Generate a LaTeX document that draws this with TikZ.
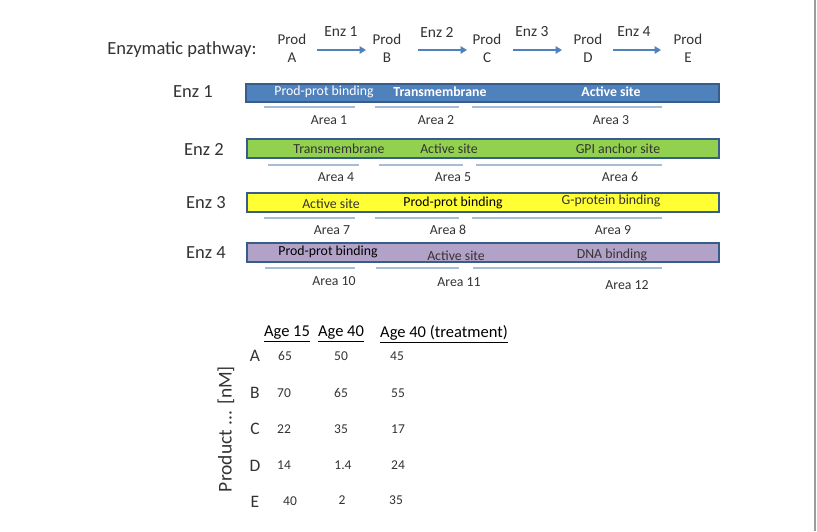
\documentclass[tikz,border=0pt]{standalone}
\usepackage{fontspec}
\setmainfont{Carlito}
\usetikzlibrary{arrows.meta}
\definecolor{barblue}{HTML}{4F81BD}
\definecolor{barblueedge}{HTML}{385D8A}
\definecolor{bargreen}{HTML}{92D050}
\definecolor{baryellow}{HTML}{FFFF33}
\definecolor{barpurple}{HTML}{B3A2C7}
\definecolor{arealine}{HTML}{A7BCD6}
\definecolor{txtgray}{HTML}{333333}
\definecolor{frameline}{HTML}{9A9CA0}
\tikzset{
  lbl/.style={inner sep=0pt, font=\fontsize{18.5}{20}\selectfont, text=txtgray},
  prodlbl/.style={inner sep=0pt, font=\fontsize{15}{17}\selectfont, text=txtgray, align=center},
  enzlbl/.style={inner sep=0pt, font=\fontsize{15.5}{17}\selectfont, text=txtgray},
  patharrow/.style={draw=barblue, line width=2pt, -{Triangle[length=6.5pt,width=7.5pt]}},
  barbox/.style={draw=barblueedge, line width=1.6pt, inner sep=0pt},
  bartxt/.style={inner sep=0pt, font=\fontsize{13.8}{15}\selectfont},
  boldtxt/.style={inner sep=0pt, font=\bfseries\fontsize{13.8}{15}\selectfont},
  areatxt/.style={inner sep=0pt, font=\fontsize{13.8}{15}\selectfont, text=txtgray},
  aline/.style={draw=arealine, line width=1.6pt},
  hdr/.style={inner sep=0pt, font=\fontsize{16.5}{18}\selectfont, text=black},
  rowlbl/.style={inner sep=0pt, font=\fontsize{17.5}{19}\selectfont, text=txtgray},
  ylbl/.style={inner sep=0pt, font=\fontsize{19.5}{21}\selectfont, text=txtgray},
  val/.style={inner sep=0pt, font=\fontsize{13.5}{15}\selectfont, text=txtgray},
}
\begin{document}
\begin{tikzpicture}[x=1pt,y=-1pt]
\useasboundingbox (0,0) rectangle (817,531);
\fill[white] (0,0) rectangle (817,531);
\draw[frameline, line width=2pt] (815,0) -- (815,531);

% pathway
\node[lbl] (pw) at (182,50) {Enzymatic pathway:};
\node[prodlbl] (pA) at (292,48) {Prod\\[1pt]A};
\node[prodlbl] (pB) at (387,48) {Prod\\[1pt]B};
\node[prodlbl] (pC) at (487,48) {Prod\\[1pt]C};
\node[prodlbl] (pD) at (588,48) {Prod\\[1pt]D};
\node[prodlbl] (pE) at (688,48) {Prod\\[1pt]E};
\node[enzlbl] (e1) at (341,32) {Enz 1};
\node[enzlbl] (e2) at (437,32) {Enz 2};
\node[enzlbl] (e3) at (532,32) {Enz 3};
\node[enzlbl] (e4) at (634,32) {Enz 4};
\coordinate (a1s) at (317,50); \coordinate (a1e) at (366,50);
\coordinate (a2s) at (418,50); \coordinate (a2e) at (467,50);
\coordinate (a3s) at (513,50); \coordinate (a3e) at (562,50);
\coordinate (a4s) at (613,50); \coordinate (a4e) at (661,50);
\draw[patharrow] (a1s) -- (a1e);
\draw[patharrow] (a2s) -- (a2e);
\draw[patharrow] (a3s) -- (a3e);
\draw[patharrow] (a4s) -- (a4e);

% Enz 1
\node[lbl] (r1) at (193,92) {Enz 1};
\draw[barbox, fill=barblue] (246,84) rectangle (719,102);
\node[bartxt, text=white] (t11) at (324,92) {Prod-prot binding};
\node[boldtxt, text=white] (t12) at (440,92) {Transmembrane};
\node[boldtxt, text=white] (t13) at (611,92) {Active site};
\draw[aline] (264,107) -- (355,107);
\draw[aline] (375,107) -- (459,107);
\draw[aline] (472,107) -- (662,107);
\node[areatxt] (ar1) at (329,120) {Area 1};
\node[areatxt] (ar2) at (436,120) {Area 2};
\node[areatxt] (ar3) at (611,120) {Area 3};

% Enz 2
\node[lbl] (r2) at (204,149) {Enz 2};
\draw[barbox, fill=bargreen] (247,139) rectangle (719,158);
\node[bartxt, text=txtgray] (t21) at (339,149) {Transmembrane};
\node[bartxt, text=txtgray] (t22) at (449,149) {Active site};
\node[bartxt, text=txtgray] (t23) at (618,149) {GPI anchor site};
\draw[aline] (268,165) -- (359,165);
\draw[aline] (379,165) -- (463,165);
\draw[aline] (476,165) -- (662,165);
\node[areatxt] (ar4) at (336,177) {Area 4};
\node[areatxt] (ar5) at (453,177) {Area 5};
\node[areatxt] (ar6) at (620,177) {Area 6};

% Enz 3
\node[lbl] (r3) at (206,203) {Enz 3};
\draw[barbox, fill=baryellow] (247,193) rectangle (719,212);
\node[bartxt, text=txtgray] (t31) at (331,204) {Active site};
\node[bartxt, text=black] (t32) at (453,203) {Prod-prot binding};
\node[bartxt, text=txtgray] (t33) at (611,201) {G-protein binding};
\draw[aline] (264,218) -- (355,218);
\draw[aline] (375,218) -- (459,218);
\draw[aline] (472,218) -- (662,218);
\node[areatxt] (ar7) at (332,230) {Area 7};
\node[areatxt] (ar8) at (448,230) {Area 8};
\node[areatxt] (ar9) at (613,230) {Area 9};

% Enz 4
\node[lbl] (r4) at (206,253) {Enz 4};
\draw[barbox, fill=barpurple] (247,243) rectangle (719,262);
\node[bartxt, text=black] (t41) at (328,252) {Prod-prot binding};
\node[bartxt, text=txtgray] (t42) at (456,256) {Active site};
\node[bartxt, text=txtgray] (t43) at (612,255) {DNA binding};
\draw[aline] (265,268) -- (355,268);
\draw[aline] (376,268) -- (459,268);
\draw[aline] (473,268) -- (662,268);
\node[areatxt] (ar10) at (334,281) {Area 10};
\node[areatxt] (ar11) at (459,282) {Area 11};
\node[areatxt] (ar12) at (627,285) {Area 12};

% table
\node[hdr] (h1) at (287,334) {\underline{Age 15}};
\node[hdr] (h2) at (341,334) {\underline{Age 40}};
\node[hdr] (h3) at (444,334) {\underline{Age 40 (treatment)}};
\node[ylbl, rotate=90] (yl) at (226,429) {Product ... [nM]};
\node[rowlbl] (rA) at (255,356) {A};
\node[rowlbl] (rB) at (255,393) {B};
\node[rowlbl] (rC) at (255,429) {C};
\node[rowlbl] (rD) at (255,466) {D};
\node[rowlbl] (rE) at (255,502) {E};
\node[val] (vA1) at (285,356) {65};
\node[val] (vA2) at (341,356) {50};
\node[val] (vA3) at (397,356) {45};
\node[val] (vB1) at (284,393) {70};
\node[val] (vB2) at (341,393) {65};
\node[val] (vB3) at (398,393) {55};
\node[val] (vC1) at (284,429) {22};
\node[val] (vC2) at (341,429) {35};
\node[val] (vC3) at (398,429) {17};
\node[val] (vD1) at (284,465) {14};
\node[val] (vD2) at (343,465) {1.4};
\node[val] (vD3) at (398,465) {24};
\node[val] (vE1) at (290,501) {40};
\node[val] (vE2) at (342,500) {2};
\node[val] (vE3) at (396,500) {35};
\end{tikzpicture}
\end{document}
